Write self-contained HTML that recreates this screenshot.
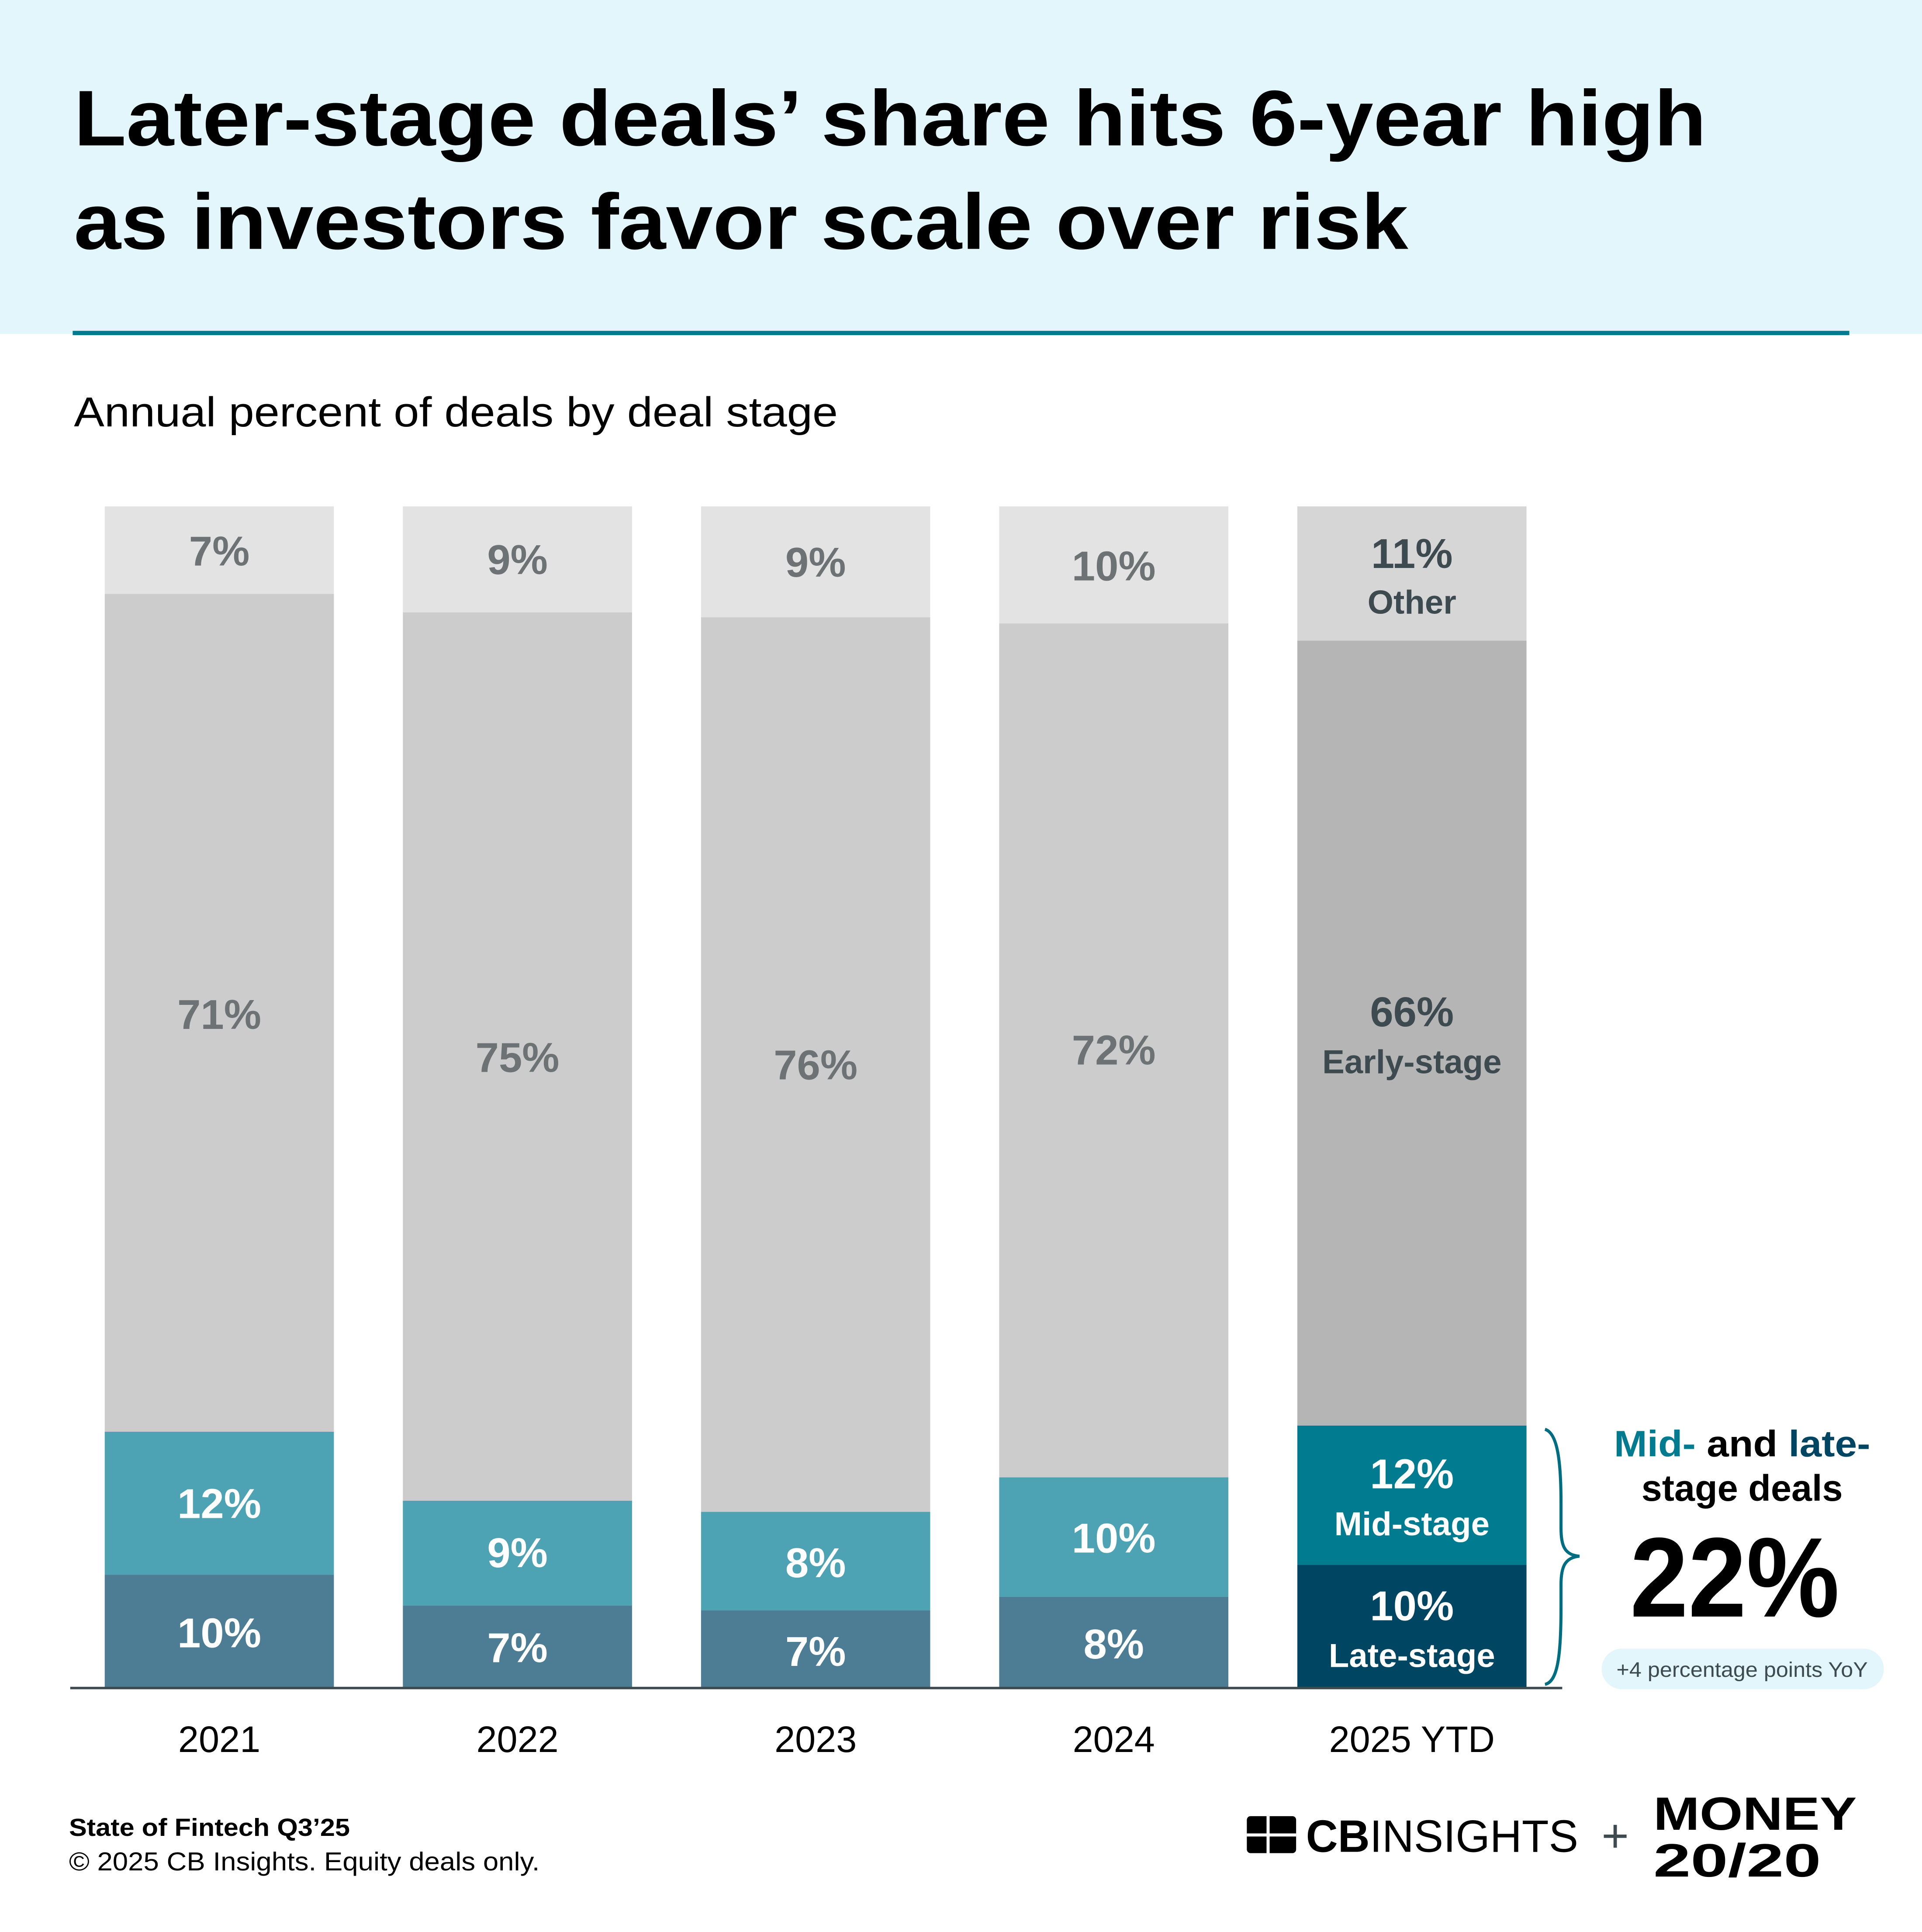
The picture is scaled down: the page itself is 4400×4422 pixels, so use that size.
<!DOCTYPE html>
<html><head><meta charset="utf-8"><style>html,body{margin:0;padding:0;background:#fff}svg{display:block}</style></head>
<body>
<svg width="4400" height="4422" viewBox="0 0 1560 1568" preserveAspectRatio="none" xmlns="http://www.w3.org/2000/svg" font-family="Liberation Sans, sans-serif">
<rect x="0" y="0" width="1560" height="271" fill="#e3f6fb"/>
<rect x="59" y="268.5" width="1442" height="3.5" fill="#007b8f"/>
<text x="60" y="118" font-size="64" font-weight="bold" fill="#000" textLength="1325" lengthAdjust="spacingAndGlyphs">Later-stage deals’ share hits 6-year high</text>
<text x="60" y="202" font-size="64" font-weight="bold" fill="#000" textLength="1083" lengthAdjust="spacingAndGlyphs">as investors favor scale over risk</text>
<text x="60" y="346" font-size="34" fill="#000" textLength="620" lengthAdjust="spacingAndGlyphs">Annual percent of deals by deal stage</text>

<g>
<rect x="85" y="411" width="186" height="71" fill="#e3e3e3"/><rect x="85" y="482" width="186" height="680" fill="#cccccc"/><rect x="85" y="1162" width="186" height="116" fill="#4da3b3"/><rect x="85" y="1278" width="186" height="92" fill="#4c7d94"/>
<rect x="327" y="411" width="186" height="86" fill="#e3e3e3"/><rect x="327" y="497" width="186" height="721" fill="#cccccc"/><rect x="327" y="1218" width="186" height="85" fill="#4da3b3"/><rect x="327" y="1303" width="186" height="67" fill="#4c7d94"/>
<rect x="569" y="411" width="186" height="90" fill="#e3e3e3"/><rect x="569" y="501" width="186" height="726" fill="#cccccc"/><rect x="569" y="1227" width="186" height="80" fill="#4da3b3"/><rect x="569" y="1307" width="186" height="63" fill="#4c7d94"/>
<rect x="811" y="411" width="186" height="95" fill="#e3e3e3"/><rect x="811" y="506" width="186" height="693" fill="#cccccc"/><rect x="811" y="1199" width="186" height="97" fill="#4da3b3"/><rect x="811" y="1296" width="186" height="74" fill="#4c7d94"/>
<rect x="1053" y="411" width="186" height="109" fill="#d6d6d6"/><rect x="1053" y="520" width="186" height="637" fill="#b5b5b5"/><rect x="1053" y="1157" width="186" height="113" fill="#007b8f"/><rect x="1053" y="1270" width="186" height="100" fill="#004561"/>
</g>
<rect x="57" y="1369" width="1211" height="2" fill="#3d4a4f"/>

<g font-size="34" font-weight="bold" text-anchor="middle" fill="#6d7275">
<text x="178" y="459">7%</text><text x="420" y="466">9%</text><text x="662" y="468">9%</text><text x="904" y="471">10%</text>
<text x="178" y="835">71%</text><text x="420" y="870">75%</text><text x="662" y="876">76%</text><text x="904" y="864">72%</text>
</g>
<g font-size="34" font-weight="bold" text-anchor="middle" fill="#fff">
<text x="178" y="1232">12%</text><text x="420" y="1272">9%</text><text x="662" y="1280">8%</text><text x="904" y="1260">10%</text>
<text x="178" y="1337">10%</text><text x="420" y="1349">7%</text><text x="662" y="1352">7%</text><text x="904" y="1346">8%</text>
<text x="1146" y="1208">12%</text><text x="1146" y="1246" font-size="27">Mid-stage</text>
<text x="1146" y="1315">10%</text><text x="1146" y="1353" font-size="27">Late-stage</text>
</g>
<g font-weight="bold" text-anchor="middle" fill="#3d4a4f">
<text x="1146" y="461" font-size="34">11%</text><text x="1146" y="498" font-size="27">Other</text>
<text x="1146" y="833" font-size="34">66%</text><text x="1146" y="871" font-size="27">Early-stage</text>
</g>
<g font-size="30" text-anchor="middle" fill="#000">
<text x="178" y="1422">2021</text><text x="420" y="1422">2022</text><text x="662" y="1422">2023</text><text x="904" y="1422">2024</text><text x="1146" y="1422">2025 YTD</text>
</g>

<path d="M1254 1160 C1264 1163 1267 1185 1267 1220 L1267 1240 C1267 1255 1270 1262 1282 1263 C1270 1264 1267 1272 1267 1286 L1267 1305 C1267 1345 1264 1365 1254 1367" fill="none" stroke="#006e82" stroke-width="2.5"/>
<text x="1414" y="1182" font-size="30" font-weight="bold" text-anchor="middle" textLength="208" lengthAdjust="spacingAndGlyphs"><tspan fill="#007b8f">Mid-</tspan><tspan fill="#000"> and </tspan><tspan fill="#004561">late-</tspan></text>
<text x="1414" y="1218" font-size="30" font-weight="bold" text-anchor="middle" fill="#000">stage deals</text>
<text x="1323" y="1312" font-size="92" font-weight="bold" fill="#000" textLength="170" lengthAdjust="spacingAndGlyphs">22%</text>
<rect x="1300" y="1338" width="229" height="33" rx="16.5" fill="#e3f6fb"/>
<text x="1414" y="1361" font-size="17" text-anchor="middle" fill="#3d4a4f" textLength="204" lengthAdjust="spacingAndGlyphs">+4 percentage points YoY</text>

<text x="56" y="1490" font-size="20" font-weight="bold" fill="#000" textLength="228" lengthAdjust="spacingAndGlyphs">State of Fintech Q3’25</text>
<text x="56" y="1518" font-size="21" fill="#000" textLength="382" lengthAdjust="spacingAndGlyphs">© 2025 CB Insights. Equity deals only.</text>

<g fill="#000">
<rect x="1012" y="1474" width="40" height="30" rx="3"/>
<rect x="1028" y="1474" width="2.5" height="30" fill="#fff"/>
<rect x="1012" y="1488" width="40" height="2.5" fill="#fff"/>
<text x="1060" y="1503" font-size="37" textLength="221" lengthAdjust="spacingAndGlyphs"><tspan font-weight="bold">CB</tspan>INSIGHTS</text>
<text x="1311" y="1503" font-size="38" fill="#3d4a4f" text-anchor="middle">+</text>
<text x="1342" y="1485" font-size="38" font-weight="bold" textLength="165" lengthAdjust="spacingAndGlyphs">MONEY</text>
<text x="1342" y="1523" font-size="38" font-weight="bold" textLength="136" lengthAdjust="spacingAndGlyphs">20/20</text>
</g>
</svg>
</body></html>
